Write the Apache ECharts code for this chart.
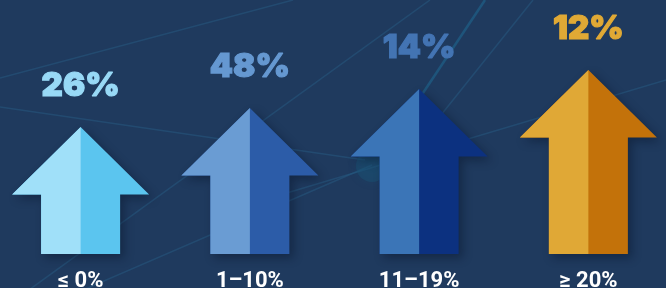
<!DOCTYPE html>
<html>
<head>
<meta charset="utf-8">
<style>
  html, body { margin: 0; padding: 0; background: #1f3a5e; }
  #main { width: 666px; height: 288px; }
</style>
<script src="https://cdn.jsdelivr.net/npm/echarts@6/dist/echarts.min.js"></script>
</head>
<body>
<div id="main"></div>
<script>
// categories + the percentage shown above each arrow
const categories = ["≤ 0%", "1–10%", "11–19%", "≥ 20%"];
const shares = [26, 48, 14, 12];
// arrow heights (decorative steps, axis units)
const arrowHeights = [127, 146, 165, 184];

// light half / dark half / label colour for each arrow
const lightColors = ["#a0e0f9", "#6a9cd3", "#3b75b7", "#e0a836"];
const darkColors = ["#5bc5ef", "#2c5ca8", "#0c3180", "#c3720a"];
const labelColors = ["#98d9f6", "#6598d1", "#4374b3", "#e0a935"];

const chart = echarts.init(document.getElementById("main"));

const HEAD_HALF = 68.5;   // half width of arrow head
const SHAFT_HALF = 39.5;  // half width of shaft
const HEAD_H = 67.5;      // head height

function renderArrow(params, api) {
    const i = api.value(0);
    const tip = api.coord([i, api.value(1)]);
    const base = api.coord([i, 0]);
    const x = tip[0], ty = tip[1], by = base[1];
    const wy = ty + HEAD_H;
    const full = [
        [x, ty], [x + HEAD_HALF, wy], [x + SHAFT_HALF, wy], [x + SHAFT_HALF, by],
        [x - SHAFT_HALF, by], [x - SHAFT_HALF, wy], [x - HEAD_HALF, wy]
    ];
    const left = [
        [x, ty], [x, by], [x - SHAFT_HALF, by], [x - SHAFT_HALF, wy], [x - HEAD_HALF, wy]
    ];
    return {
        type: "group",
        children: [
            {
                type: "polygon",
                shape: { points: full },
                style: {
                    fill: darkColors[i],
                    shadowBlur: 10,
                    shadowOffsetX: 4,
                    shadowOffsetY: 4,
                    shadowColor: "rgba(5,15,35,0.4)"
                }
            },
            {
                type: "polygon",
                shape: { points: left },
                style: { fill: lightColors[i] }
            },
            {
                type: "text",
                style: {
                    text: shares[i] + "%",
                    x: x,
                    y: ty - 41,
                    align: "center",
                    verticalAlign: "middle",
                    fill: labelColors[i],
                    stroke: labelColors[i],
                    lineWidth: 1.2,
                    fontFamily: "Inter",
                    fontWeight: 900,
                    fontSize: 33
                }
            }
        ]
    };
}

// faint background streaks
const streak = "rgba(40,95,135,0.45)";
const decoLines = [
    { pts: [[0, 78], [293, 0]], c: streak, w: 1.5 },
    { pts: [[0, 107], [365, 160]], c: streak, w: 1.5 },
    { pts: [[15, 300], [430, 0]], c: streak, w: 1.5 },
    { pts: [[60, 300], [372, 165]], c: streak, w: 1.5 },
    { pts: [[280, 195], [666, 80]], c: streak, w: 1.5 },
    { pts: [[395, 135], [485, 0]], c: "rgba(30,95,135,0.7)", w: 2.5 },
    { pts: [[405, 160], [533, 0]], c: streak, w: 1.5 }
];

const graphic = decoLines.map(d => ({
    type: "polyline",
    z: 0,
    silent: true,
    shape: { points: d.pts },
    style: { stroke: d.c, lineWidth: d.w, fill: null }
}));
graphic.push({
    type: "circle",
    z: 0,
    silent: true,
    shape: { cx: 372, cy: 166, r: 16 },
    style: { fill: "rgba(25,85,120,0.4)", shadowBlur: 8, shadowColor: "rgba(25,85,120,0.5)" }
});

chart.setOption({
    backgroundColor: "#1f3a5e",
    animation: false,
    graphic: graphic,
    grid: { left: -4, right: -7, top: 0, bottom: 34, containLabel: false, outerBoundsMode: "none" },
    xAxis: {
        type: "category",
        data: categories,
        axisLine: { show: false },
        axisTick: { show: false },
        splitLine: { show: false },
        axisLabel: {
            color: "#ffffff",
            fontFamily: "Roboto",
            fontWeight: "bold",
            fontSize: 22,
            margin: 27,
            verticalAlign: "middle"
        }
    },
    yAxis: {
        type: "value",
        min: 0,
        max: 254,
        show: false,
        splitLine: { show: false }
    },
    series: [
        {
            type: "custom",
            z: 10,
            renderItem: renderArrow,
            data: arrowHeights.map((h, i) => [i, h])
        }
    ]
});
</script>
</body>
</html>
